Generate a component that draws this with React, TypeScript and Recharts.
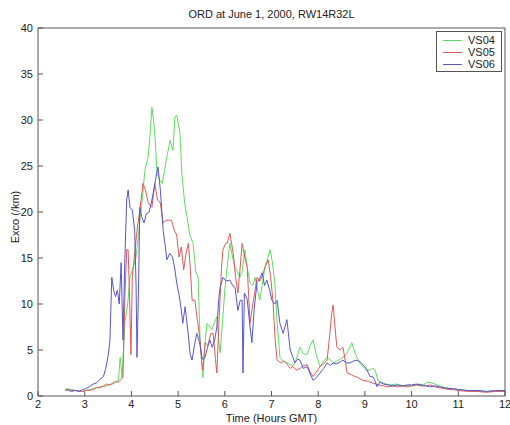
import React from "react";
import { LineChart, Line, XAxis, YAxis } from "recharts";

// Hand-read samples, hours GMT -> Exco (/km)
const vs04Times = [
  2.58, 2.65, 2.72, 2.8, 2.88, 2.95, 3.02, 3.1, 3.18, 3.25, 3.32, 3.4, 3.47, 3.53, 3.6, 3.66, 3.72, 3.76, 3.8,
  3.86, 3.92, 3.97, 4.04, 4.1, 4.16, 4.23, 4.29, 4.36, 4.4, 4.44, 4.48, 4.52, 4.55, 4.6, 4.66, 4.71, 4.76, 4.83,
  4.89, 4.93, 4.97, 5.0, 5.04, 5.08, 5.14, 5.19, 5.25, 5.32, 5.38, 5.43, 5.47, 5.5, 5.53, 5.58, 5.62, 5.68, 5.72,
  5.78, 5.83, 5.88, 5.9, 5.95, 6.0, 6.06, 6.11, 6.17, 6.22, 6.27, 6.32, 6.37, 6.43, 6.48, 6.54, 6.6, 6.65, 6.7,
  6.75, 6.8, 6.86, 6.92, 6.97, 7.02, 7.07, 7.12, 7.18, 7.25, 7.33, 7.4, 7.46, 7.53, 7.61, 7.68, 7.76, 7.83, 7.89,
  7.96, 8.04, 8.12, 8.19, 8.26, 8.32, 8.4, 8.47, 8.55, 8.62, 8.68, 8.72, 8.78, 8.83, 8.9, 8.96, 9.03, 9.1, 9.17,
  9.22, 9.28, 9.35, 9.45, 9.55, 9.65, 9.75, 9.85, 9.95, 10.05, 10.15, 10.25, 10.35, 10.45, 10.55, 10.65, 10.75,
  10.85, 11.0, 11.2, 11.4, 11.6, 11.8, 12.0,
];
const vs04Values = [
  0.7, 0.8, 0.7, 0.6, 0.6, 0.5, 0.6, 0.7, 0.8, 0.9, 1.0, 1.0, 1.1, 1.2, 1.3, 1.5, 1.6, 4.2, 2.0,
  7.9, 10.0, 12.9, 14.0, 15.1, 18.0, 21.3, 24.6, 26.0, 28.5, 31.4, 29.7, 27.0, 24.2, 23.5, 23.1, 24.5, 26.0, 27.8,
  26.7, 30.3, 30.5, 29.7, 28.6, 24.2, 21.0, 19.5, 17.5, 16.6, 13.5, 12.9, 6.1, 4.0, 2.0, 6.0, 7.9, 7.5, 7.2,
  8.0, 8.6, 5.5, 4.7, 8.0, 11.5, 14.5, 16.6, 15.0, 14.0, 13.5, 12.9, 13.5, 15.9, 14.0, 12.3, 12.0, 12.9, 11.5,
  10.4, 12.0, 14.0, 15.0, 15.9, 14.5, 12.3, 8.0, 4.2, 3.8, 3.6, 3.4, 3.2, 4.0, 5.3, 4.6, 4.5, 5.5, 6.1,
  4.5, 3.2, 3.8, 4.2, 3.9, 3.6, 3.8, 4.0, 4.3, 4.7, 5.3, 5.8, 4.8, 4.2, 3.5, 3.2, 2.8, 2.8, 3.0,
  2.8, 1.7, 1.5, 1.3, 1.2, 1.3, 1.2, 1.1, 1.2, 1.1, 1.3, 1.2, 1.5, 1.4, 1.2, 1.0, 0.9,
  0.8, 0.7, 0.6, 0.6, 0.5, 0.5, 0.5,
];

const vs05Times = [
  2.58, 2.65, 2.72, 2.8, 2.88, 2.95, 3.02, 3.1, 3.18, 3.25, 3.32, 3.4, 3.47, 3.53, 3.6, 3.66, 3.72, 3.78, 3.82,
  3.86, 3.9, 3.93, 3.96, 3.99, 4.02, 4.06, 4.12, 4.18, 4.25, 4.3, 4.36, 4.44, 4.5, 4.56, 4.62, 4.68, 4.74, 4.8, 4.86,
  4.92, 4.97, 5.02, 5.07, 5.12, 5.17, 5.22, 5.26, 5.3, 5.36, 5.42, 5.47, 5.5, 5.53, 5.58, 5.64, 5.7, 5.75, 5.8,
  5.83, 5.88, 5.93, 5.96, 6.02, 6.05, 6.11, 6.18, 6.23, 6.28, 6.33, 6.37, 6.43, 6.48, 6.54, 6.6, 6.65, 6.69,
  6.75, 6.8, 6.86, 6.93, 6.98, 7.03, 7.08, 7.12, 7.2, 7.27, 7.33, 7.4, 7.46, 7.53, 7.61, 7.68, 7.76, 7.83, 7.89,
  7.96, 8.04, 8.12, 8.19, 8.25, 8.29, 8.32, 8.36, 8.4, 8.47, 8.53, 8.58, 8.62, 8.68, 8.75, 8.85, 8.96, 9.07,
  9.17, 9.3, 9.4, 9.5, 9.6, 9.7, 9.8, 9.9, 10.0, 10.1, 10.2, 10.3, 10.4, 10.5, 10.6, 10.7, 10.8, 10.9, 11.0,
  11.2, 11.4, 11.6, 11.8, 12.0,
];
const vs05Values = [
  0.7, 0.7, 0.6, 0.6, 0.5, 0.5, 0.6, 0.6, 0.7, 0.9, 0.9, 1.1, 1.3, 1.2, 1.4, 1.6, 1.5, 1.8, 2.1,
  10.8, 15.9, 15.9, 10.8, 4.5, 12.9, 15.0, 18.0, 20.2, 23.1, 22.4, 21.0, 20.5, 23.1, 21.3, 21.0, 18.8, 19.1, 19.1, 19.1,
  18.0, 17.5, 15.1, 16.2, 13.7, 15.5, 16.6, 14.0, 10.4, 10.4, 8.0, 6.1, 4.0, 2.8, 5.8, 5.5, 6.8, 6.8, 4.0,
  2.5, 8.6, 14.0, 15.9, 16.6, 16.6, 17.7, 15.5, 13.0, 11.2, 14.0, 16.6, 15.0, 14.0, 7.9, 10.0, 11.5, 12.9,
  12.5, 13.0, 14.0, 14.8, 13.0, 10.4, 6.0, 3.9, 3.6, 3.8, 3.5, 3.0, 3.2, 2.8, 3.0, 3.3, 3.4, 2.6, 2.1,
  2.6, 3.2, 3.5, 3.9, 6.8, 9.0, 9.9, 7.5, 5.3, 5.0, 5.3, 3.8, 2.5, 2.4, 2.2, 2.0, 1.7, 1.6,
  1.4, 1.2, 1.1, 1.0, 1.1, 1.0, 1.1, 1.0, 1.1, 1.2, 1.1, 1.1, 1.2, 1.0, 0.9, 0.8, 0.7, 0.7, 0.6,
  0.5, 0.5, 0.4, 0.5, 0.5,
];

const vs06Times = [
  2.58, 2.65, 2.72, 2.8, 2.88, 2.95, 3.02, 3.1, 3.18, 3.25, 3.32, 3.4, 3.45, 3.5, 3.54, 3.58, 3.62, 3.66, 3.7,
  3.74, 3.78, 3.82, 3.86, 3.9, 3.93, 3.97, 4.02, 4.07, 4.1, 4.12, 4.15, 4.18, 4.22, 4.27, 4.32, 4.38, 4.44, 4.5,
  4.54, 4.57, 4.62, 4.68, 4.72, 4.76, 4.82, 4.88, 4.93, 4.97, 5.02, 5.06, 5.1, 5.15, 5.2, 5.26, 5.3, 5.35, 5.4,
  5.46, 5.52, 5.58, 5.63, 5.68, 5.73, 5.78, 5.83, 5.87, 5.9, 5.96, 6.03, 6.11, 6.17, 6.22, 6.28, 6.33, 6.37,
  6.39, 6.42, 6.48, 6.53, 6.58, 6.63, 6.69, 6.75, 6.8, 6.85, 6.9, 6.96, 7.01, 7.07, 7.12, 7.18, 7.25, 7.33, 7.4,
  7.46, 7.5, 7.56, 7.61, 7.68, 7.76, 7.83, 7.89, 7.96, 8.04, 8.12, 8.19, 8.26, 8.32, 8.4, 8.47, 8.53, 8.6, 8.68,
  8.76, 8.83, 8.9, 8.96, 9.03, 9.11, 9.17, 9.22, 9.26, 9.32, 9.4, 9.5, 9.6, 9.7, 9.8, 9.9, 10.0, 10.1, 10.2,
  10.3, 10.4, 10.5, 10.6, 10.7, 10.8, 10.9, 11.0, 11.2, 11.4, 11.6, 11.8, 12.0,
];
const vs06Values = [
  0.7, 0.6, 0.5, 0.6, 0.5, 0.7, 0.8, 1.0, 1.3, 1.4, 1.8, 2.1, 3.0, 4.3, 6.0, 12.9, 11.5, 10.8, 11.5,
  10.0, 14.5, 6.1, 15.0, 21.3, 22.4, 20.5, 20.2, 18.0, 12.0, 4.2, 11.0, 20.5, 19.5, 18.8, 19.8, 20.0, 21.3, 23.0,
  24.2, 24.9, 22.4, 18.0, 16.5, 14.8, 15.5, 15.1, 13.8, 12.3, 11.0, 9.7, 7.9, 9.7, 7.5, 4.5, 3.9, 5.5, 6.8,
  5.8, 4.0, 4.2, 5.3, 6.1, 5.3, 6.0, 7.5, 10.5, 11.8, 12.9, 12.5, 12.6, 12.0, 11.8, 9.3, 10.4, 10.4,
  2.5, 11.2, 10.5, 8.0, 5.8, 9.5, 12.3, 12.8, 13.4, 12.0, 12.6, 11.5, 10.4, 10.0, 10.4, 7.9, 6.8, 8.3, 5.0,
  4.2, 3.6, 4.0, 3.9, 3.0, 3.2, 2.4, 1.7, 2.0, 2.5, 3.0, 3.6, 3.3, 3.6, 3.5, 3.7, 3.9, 3.6, 3.6,
  3.8, 3.9, 3.7, 3.4, 3.0, 2.1, 2.1, 1.6, 1.0, 1.5, 1.3, 1.2, 1.1, 1.2, 1.1, 1.2, 1.2, 1.3, 1.2,
  1.1, 1.0, 1.1, 1.0, 0.9, 0.8, 0.8, 0.7, 0.6, 0.6, 0.5, 0.6, 0.6,
];

const xTicks = [2, 3, 4, 5, 6, 7, 8, 9, 10, 11, 12];
const yTicks = [0, 5, 10, 15, 20, 25, 30, 35, 40];

const series = [
  { name: "VS04", color: "#5fdc5f", times: vs04Times, values: vs04Values },
  { name: "VS05", color: "#df5a5a", times: vs05Times, values: vs05Values },
  { name: "VS06", color: "#5656cc", times: vs06Times, values: vs06Values },
];

const FONT = "'Liberation Sans', Arial, sans-serif";
const AXIS = "#555";
const TEXT = "#222";
const TICK_LEN = 5;

function AxisTick(props: any) {
  const { x, y, payload, side } = props;
  if (side === "bottom") {
    return (
      <g>
        <line x1={x} y1={y} x2={x} y2={y - TICK_LEN} stroke={AXIS} />
        <text x={x} y={y + 12} textAnchor="middle" fontSize={11} fill={TEXT} fontFamily={FONT}>
          {payload.value}
        </text>
      </g>
    );
  }
  if (side === "top") return <line x1={x} y1={y} x2={x} y2={y + TICK_LEN} stroke={AXIS} />;
  if (side === "left") {
    return (
      <g>
        <line x1={x} y1={y} x2={x + TICK_LEN} y2={y} stroke={AXIS} />
        <text x={x - 5} y={y + 4} textAnchor="end" fontSize={11} fill={TEXT} fontFamily={FONT}>
          {payload.value}
        </text>
      </g>
    );
  }
  return <line x1={x} y1={y} x2={x - TICK_LEN} y2={y} stroke={AXIS} />;
}

export default function App() {
  const lines = series.map((s) => ({
    ...s,
    data: s.times.map((t, i) => ({ t, v: s.values[i] })),
  }));

  return (
    <div style={{ position: "absolute", left: 0, top: 0, width: 510, height: 425, background: "#fff", fontFamily: FONT }}>
      <LineChart width={510} height={425} margin={{ top: 23, right: 0, bottom: 0, left: 8 }}>
        <XAxis
          dataKey="t"
          type="number"
          domain={[2, 12]}
          ticks={xTicks}
          interval={0}
          allowDataOverflow
          height={29}
          stroke={AXIS}
          tickSize={0}
          tickMargin={0}
          tickLine={false}
          tick={(p: any) => <AxisTick {...p} side="bottom" />}
        />
        <XAxis
          xAxisId="top"
          orientation="top"
          dataKey="t"
          type="number"
          domain={[2, 12]}
          ticks={xTicks}
          interval={0}
          height={5}
          stroke={AXIS}
          tickSize={0}
          tickMargin={0}
          tickLine={false}
          tick={(p: any) => <AxisTick {...p} side="top" />}
        />
        <YAxis
          type="number"
          domain={[0, 40]}
          ticks={yTicks}
          interval={0}
          allowDataOverflow
          width={30}
          stroke={AXIS}
          tickSize={0}
          tickMargin={0}
          tickLine={false}
          tick={(p: any) => <AxisTick {...p} side="left" />}
        />
        <YAxis
          yAxisId="right"
          orientation="right"
          type="number"
          domain={[0, 40]}
          ticks={yTicks}
          interval={0}
          width={5}
          stroke={AXIS}
          tickSize={0}
          tickMargin={0}
          tickLine={false}
          tick={(p: any) => <AxisTick {...p} side="right" />}
        />
        {lines.map((s) => (
          <Line
            key={s.name}
            data={s.data}
            dataKey="v"
            name={s.name}
            type="linear"
            stroke={s.color}
            strokeWidth={1}
            dot={false}
            activeDot={false}
            isAnimationActive={false}
          />
        ))}
      </LineChart>

      {/* title and axis labels */}
      <div style={{ position: "absolute", left: 38, width: 467, top: 8, textAlign: "center", fontSize: 11, lineHeight: "12px", color: TEXT }}>
        ORD at June 1, 2000, RW14R32L
      </div>
      <div style={{ position: "absolute", left: 38, width: 467, top: 412, textAlign: "center", fontSize: 11, lineHeight: "12px", color: TEXT }}>
        Time (Hours GMT)
      </div>
      <div
        style={{
          position: "absolute",
          left: 15,
          top: 217,
          transform: "translate(-50%, -50%) rotate(-90deg)",
          whiteSpace: "nowrap",
          fontSize: 11,
          lineHeight: "12px",
          color: TEXT,
        }}
      >
        Exco (/km)
      </div>

      {/* legend box, upper right */}
      <div
        style={{
          position: "absolute",
          left: 436,
          top: 31,
          width: 66,
          height: 41,
          border: `1px solid ${AXIS}`,
          background: "#fff",
          boxSizing: "border-box",
          paddingTop: 2,
        }}
      >
        {series.map((s) => (
          <div key={s.name} style={{ display: "flex", alignItems: "center", height: 12, fontSize: 11, color: TEXT }}>
            <span style={{ display: "inline-block", width: 19, height: 1, background: s.color, marginLeft: 6, marginRight: 6 }} />
            {s.name}
          </div>
        ))}
      </div>
    </div>
  );
}
